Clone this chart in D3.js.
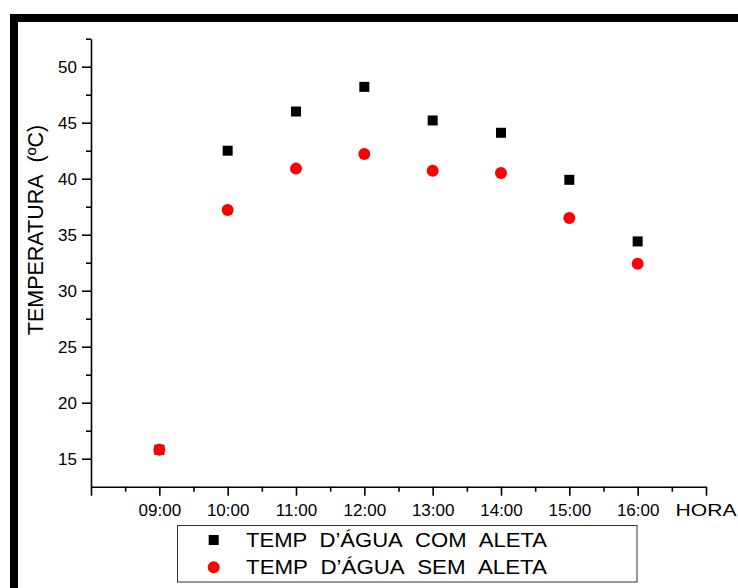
<!DOCTYPE html>
<html>
<head>
<meta charset="utf-8">
<script src="https://cdn.jsdelivr.net/npm/d3@7"></script>
<style>
  body { margin: 0; background: #fff; }
  svg { display: block; font-family: "Liberation Sans", Arial, sans-serif; }
</style>
</head>
<body>
<div id="chart"></div>
<script>
// data
const hours = [9, 10, 11, 12, 13, 14, 15, 16];
const hourLabels = ['09:00', '10:00', '11:00', '12:00', '13:00', '14:00', '15:00', '16:00'];
const tempComAleta = [15.8, 42.5, 46.0, 48.2, 45.2, 44.1, 39.9, 34.4];
const tempSemAleta = [15.8, 37.2, 40.9, 42.2, 40.7, 40.5, 36.5, 32.4];
const yTicks = [15, 20, 25, 30, 35, 40, 45, 50];
const yMinorTicks = [17.5, 22.5, 27.5, 32.5, 37.5, 42.5, 47.5, 52.5];
const xTicks = [8, 9, 10, 11, 12, 13, 14, 15, 16, 17];
const xMinorTicks = [8.5, 9.5, 10.5, 11.5, 12.5, 13.5, 14.5, 15.5, 16.5];
const seriesNames = ['TEMP  D\u2019ÁGUA  COM  ALETA', 'TEMP  D\u2019ÁGUA  SEM  ALETA'];

const W = 738, H = 588;
const font = '"Liberation Sans", Arial, sans-serif';
// keep the double spaces of the original labels
const keepSpaces = s => s.replace(/ /g, '\u00a0');

const svg = d3.select('#chart').append('svg')
    .attr('width', W)
    .attr('height', H);

// thick outer frame (runs off right and bottom edges)
svg.append('rect')
    .attr('x', 14)
    .attr('y', 18)
    .attr('width', 900)
    .attr('height', 900)
    .attr('fill', 'none')
    .attr('stroke', '#000')
    .attr('stroke-width', 8);

const x = d3.scaleLinear().domain([8, 17]).range([91, 706]);
const y = d3.scaleLinear().domain([12.5, 52.5]).range([486.7, 38.7]);

const labelFor = d => {
    const i = hours.indexOf(d);
    if (i >= 0) return hourLabels[i];
    return '';
};

// y axis
svg.append('g')
    .attr('transform', 'translate(91,0)')
    .call(d3.axisLeft(y).tickValues(yTicks).tickSize(9).tickPadding(5).tickSizeOuter(0));
svg.append('g')
    .attr('transform', 'translate(91,0)')
    .call(d3.axisLeft(y).tickValues(yMinorTicks).tickSize(5).tickFormat('').tickSizeOuter(0))
    .select('.domain').remove();

// x axis
svg.append('g')
    .attr('transform', 'translate(0,486.7)')
    .call(d3.axisBottom(x).tickValues(xTicks).tickSize(9).tickPadding(8).tickSizeOuter(0).tickFormat(labelFor));
svg.append('g')
    .attr('transform', 'translate(0,486.7)')
    .call(d3.axisBottom(x).tickValues(xMinorTicks).tickSize(5).tickFormat('').tickSizeOuter(0))
    .select('.domain').remove();

svg.selectAll('.domain, .tick line')
    .attr('stroke', '#000')
    .attr('stroke-width', 1.6);

svg.selectAll('.tick text')
    .attr('fill', '#000')
    .style('font-family', font)
    .style('font-size', '17px');

// axis titles
svg.append('text')
    .attr('x', 706)
    .attr('y', 516)
    .attr('text-anchor', 'middle')
    .attr('textLength', 61)
    .attr('lengthAdjust', 'spacingAndGlyphs')
    .style('font-size', '17px')
    .attr('fill', '#000')
    .text('HORA');

svg.append('text')
    .attr('transform', 'rotate(-90)')
    .attr('x', -230)
    .attr('y', 42.5)
    .attr('text-anchor', 'middle')
    .style('font-size', '21.5px')
    .attr('fill', '#000')
    .text(keepSpaces('TEMPERATURA  (ºC)'));

// points
svg.selectAll('.com-aleta')
    .data(hours)
    .enter()
    .append('rect')
    .attr('class', 'com-aleta')
    .attr('x', (d, i) => x(d) - 5)
    .attr('y', (d, i) => y(tempComAleta[i]) - 5)
    .attr('width', 10)
    .attr('height', 10)
    .attr('fill', '#000');

svg.selectAll('.sem-aleta')
    .data(hours)
    .enter()
    .append('circle')
    .attr('class', 'sem-aleta')
    .attr('cx', d => x(d))
    .attr('cy', (d, i) => y(tempSemAleta[i]))
    .attr('r', 6)
    .attr('fill', '#ff0000');

// legend
const legend = svg.append('g');
legend.append('rect')
    .attr('x', 177.5)
    .attr('y', 525.5)
    .attr('width', 459.5)
    .attr('height', 56.5)
    .attr('fill', '#fff')
    .attr('stroke', '#333')
    .attr('stroke-width', 1);

legend.append('rect')
    .attr('x', 208.7)
    .attr('y', 535)
    .attr('width', 10)
    .attr('height', 10)
    .attr('fill', '#000');
legend.append('circle')
    .attr('cx', 213.7)
    .attr('cy', 567.3)
    .attr('r', 6)
    .attr('fill', '#ff0000');

legend.selectAll('.legend-text')
    .data(seriesNames)
    .enter()
    .append('text')
    .attr('class', 'legend-text')
    .attr('x', 246)
    .attr('y', (d, i) => 546.7 + i * 27.3)
    .attr('textLength', 301)
    .attr('lengthAdjust', 'spacingAndGlyphs')
    .style('font-size', '21px')
    .attr('fill', '#000')
    .text(d => keepSpaces(d));
</script>
</body>
</html>
